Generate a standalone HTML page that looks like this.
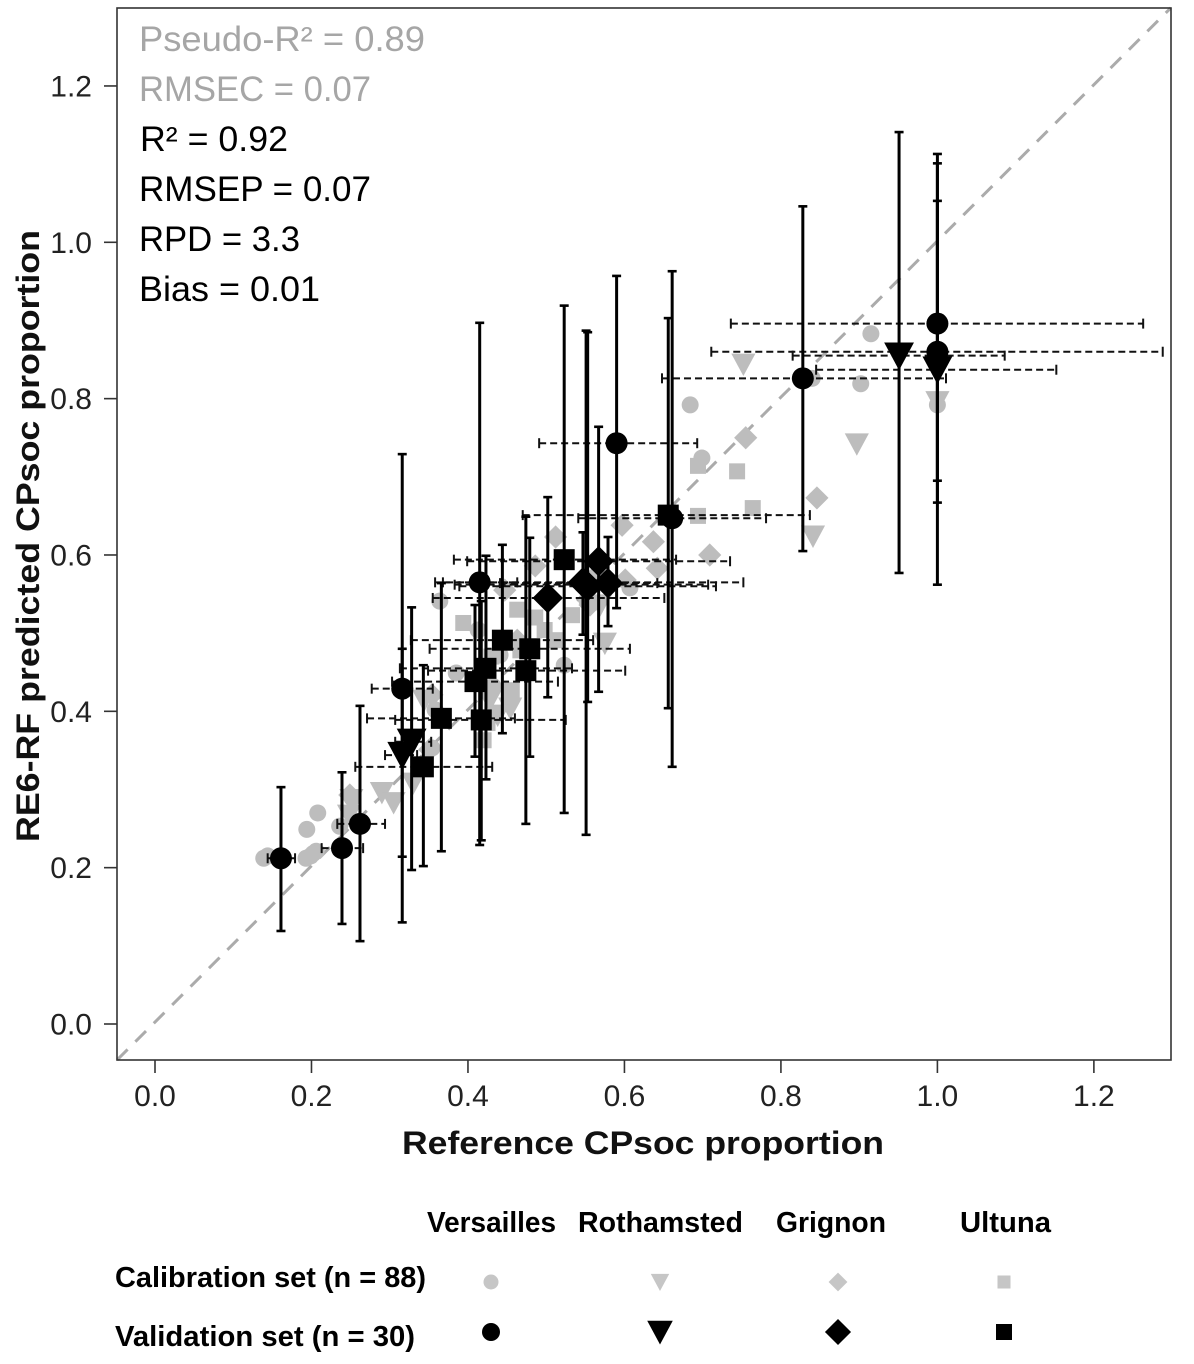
<!DOCTYPE html>
<html lang="en">
<head>
<meta charset="utf-8">
<title>RE6-RF predicted vs reference CPsoc proportion</title>
<style>
html,body{margin:0;padding:0;background:#fff;width:1194px;height:1364px;overflow:hidden}
svg{display:block}
text{font-family:"Liberation Sans",sans-serif}
</style>
</head>
<body>
<svg id="chart" xmlns="http://www.w3.org/2000/svg" width="1194" height="1364" viewBox="0 0 1194 1364">
  <rect width="1194" height="1364" fill="#fff"/>
  <g id="layer-grid"></g>
  <g id="layer-cal"></g>
  <g id="layer-err"></g>
  <g id="layer-val"></g>
  <g id="layer-axes"></g>
  <g font-size="35">
    <text x="139" y="51" fill="#a6a6a6" textLength="286" lengthAdjust="spacingAndGlyphs">Pseudo-R² = 0.89</text>
    <text x="139" y="101" fill="#a6a6a6" textLength="232" lengthAdjust="spacingAndGlyphs">RMSEC = 0.07</text>
    <text x="140" y="151" fill="#000" textLength="148" lengthAdjust="spacingAndGlyphs">R² = 0.92</text>
    <text x="139" y="201" fill="#000" textLength="232" lengthAdjust="spacingAndGlyphs">RMSEP = 0.07</text>
    <text x="139" y="251" fill="#000" textLength="161" lengthAdjust="spacingAndGlyphs">RPD = 3.3</text>
    <text x="139" y="301" fill="#000" textLength="181" lengthAdjust="spacingAndGlyphs">Bias = 0.01</text>
  </g>
  <text x="402" y="1154" font-size="32" font-weight="bold" fill="#111" textLength="482" lengthAdjust="spacingAndGlyphs">Reference CPsoc proportion</text>
  <text transform="translate(39,842) rotate(-90)" font-size="32" font-weight="bold" fill="#111" textLength="612" lengthAdjust="spacingAndGlyphs">RE6-RF predicted CPsoc proportion</text>
  <g font-weight="bold" font-size="29" fill="#000">
    <text x="427" y="1232" textLength="129" lengthAdjust="spacingAndGlyphs">Versailles</text>
    <text x="578" y="1232" textLength="165" lengthAdjust="spacingAndGlyphs">Rothamsted</text>
    <text x="776" y="1232" textLength="110" lengthAdjust="spacingAndGlyphs">Grignon</text>
    <text x="960" y="1232" textLength="91" lengthAdjust="spacingAndGlyphs">Ultuna</text>
    <text x="115" y="1287" textLength="311" lengthAdjust="spacingAndGlyphs">Calibration set (n = 88)</text>
    <text x="115" y="1346" textLength="300" lengthAdjust="spacingAndGlyphs">Validation set (n = 30)</text>
  </g>
  <g id="layer-legend"></g>
</svg>
<script>
// Axis tick labels
const xTicks = ["0.0","0.2","0.4","0.6","0.8","1.0","1.2"];
const yTicks = ["0.0","0.2","0.4","0.6","0.8","1.0","1.2"];

// Calibration set: [reference, predicted]
const calVersailles = [[.139,.212],[.144,.215],[.194,.249],[.208,.270],[.193,.212],[.199,.215],[.206,.221],[.202,.218],[.236,.253],[.252,.289],[.364,.541],[.385,.449],[.432,.432],[.523,.459],[.684,.792],[.699,.724],[.915,.883],[.902,.819],[.840,.826],[1.0,.792],[.552,.542],[.607,.558],[.358,.402],[.354,.353],[.413,.504],[.441,.472]];
const calRothamsted = [[.752,.844],[.897,.742],[.841,.624],[1.0,.796],[.290,.296],[.305,.283],[.251,.287],[.248,.267],[.330,.308],[.344,.414],[.575,.487],[.569,.536],[.454,.404],[.438,.395],[.428,.414]];
const calGrignon = [[.755,.750],[.846,.673],[.637,.617],[.709,.600],[.642,.583],[.597,.638],[.512,.623],[.486,.586],[.564,.574],[.601,.568],[.447,.555],[.463,.491],[.556,.536],[.354,.421],[.351,.351],[.249,.293]];
const calUltuna = [[.744,.707],[.694,.714],[.694,.650],[.764,.660],[.394,.513],[.463,.530],[.533,.523],[.498,.504],[.511,.491],[.456,.427],[.420,.363],[.467,.478],[.486,.520],[.430,.470],[.425,.385]];

// Validation set, per site: reference, predicted and error limits
const valSite = ["v","v","v","v","v","v","v","v","v","v","r","r","r","r","g","g","g","g","g","g","u","u","u","u","u","u","u","u","u","u"];
const valX = [.161,.239,.262,.316,.415,.590,.661,.828,1.0,1.0,.316,.328,.951,1.0,.502,.547,.551,.553,.567,.579,.343,.366,.417,.409,.423,.444,.479,.474,.523,.656];
const valY = [.212,.225,.256,.429,.565,.743,.647,.826,.896,.860,.344,.361,.855,.837,.545,.565,.562,.560,.592,.564,.329,.391,.389,.438,.455,.491,.480,.452,.594,.651];
const xLow = [.144,.213,.233,.277,.368,.491,.541,.648,.736,.711,.294,.307,.815,.845,.355,.358,.383,.389,.399,.441,.256,.271,.307,.303,.313,.327,.351,.349,.382,.470];
const xHigh = [.179,.266,.294,.355,.463,.693,.781,1.011,1.263,1.288,.335,.353,1.086,1.152,.651,.752,.707,.717,.735,.642,.431,.460,.525,.515,.533,.560,.607,.601,.666,.837];
const yLow = [.119,.128,.106,.130,.229,.532,.329,.605,.695,.667,.214,.197,.577,.562,.418,.498,.242,.412,.425,.509,.202,.221,.235,.342,.313,.372,.342,.256,.270,.404];
const yHigh = [.303,.322,.407,.729,.897,.957,.963,1.046,1.113,1.101,.480,.533,1.141,1.053,.674,.629,.887,.885,.764,.623,.459,.564,.541,.536,.599,.613,.622,.649,.919,.903];

// Axis scales
function sx(v){ return 155 + v * 782.4; }
function sy(v){ return 1024 - v * 781.7; }

const NS = "http://www.w3.org/2000/svg";
function mk(tag, attrs, parent){
  const el = document.createElementNS(NS, tag);
  for (const k in attrs) el.setAttribute(k, attrs[k]);
  parent.appendChild(el);
  return el;
}

function marker(kind, cx, cy, s, fill, parent){
  let el;
  if (kind === "v") {
    el = mk("circle", {cx:cx, cy:cy, r:s, fill:fill}, parent);
  } else if (kind === "r") {
    const w = s * 1.42, h = s * 1.32;
    el = mk("polygon", {points:(cx-w)+","+(cy-h*0.95)+" "+(cx+w)+","+(cy-h*0.95)+" "+cx+","+(cy+h*1.05), fill:fill}, parent);
  } else if (kind === "g") {
    const d = s * 1.45;
    el = mk("polygon", {points:cx+","+(cy-d)+" "+(cx+d)+","+cy+" "+cx+","+(cy+d)+" "+(cx-d)+","+cy, fill:fill}, parent);
  } else {
    el = mk("rect", {x:cx-s, y:cy-s, width:2*s, height:2*s, fill:fill}, parent);
  }
  return el;
}

const GRAY = "#bdbdbd";
const plotL = 117, plotR = 1171, plotT = 8, plotB = 1060;

// Identity line, clipped to the plot box
const gridLayer = document.getElementById("layer-grid");
const diag = mk("line", {x1:sx(-0.0486), y1:sy(-0.0461), x2:sx(1.2985), y2:sy(1.3), stroke:"#ababab", "stroke-width":3, "stroke-dasharray":"15 11"}, gridLayer);



// Calibration points
const calLayer = document.getElementById("layer-cal");
[["u",calUltuna],["g",calGrignon],["r",calRothamsted],["v",calVersailles]].forEach(function(set){
  set[1].forEach(function(p){
    const el = marker(set[0], sx(p[0]), sy(p[1]), set[0]==="u"?8:set[0]==="g"?8:8.5, GRAY, calLayer);
    
    
  });
});

// Validation error bars
const errLayer = document.getElementById("layer-err");
valX.forEach(function(x, i){
  const y = valY[i];
  const h = mk("line", {x1:sx(xLow[i]), y1:sy(y), x2:sx(xHigh[i]), y2:sy(y), stroke:"#111", "stroke-width":2, "stroke-dasharray":"7 4"}, errLayer);
  
  
  [xLow[i], xHigh[i]].forEach(function(v){
    const c = mk("line", {x1:sx(v), y1:sy(y)-5, x2:sx(v), y2:sy(y)+5, stroke:"#111", "stroke-width":2}, errLayer);
    
    
  });
});
valX.forEach(function(x, i){
  const v = mk("line", {x1:sx(x), y1:sy(yLow[i]), x2:sx(x), y2:sy(yHigh[i]), stroke:"#000", "stroke-width":3}, errLayer);
  
  
  [yLow[i], yHigh[i]].forEach(function(w){
    const c = mk("line", {x1:sx(x)-4.5, y1:sy(w), x2:sx(x)+4.5, y2:sy(w), stroke:"#000", "stroke-width":2.6}, errLayer);
    
    
  });
});

// Validation points
const valLayer = document.getElementById("layer-val");
valX.forEach(function(x, i){
  const el = marker(valSite[i], sx(x), sy(valY[i]), valSite[i]==="v"?11:10.5, "#000", valLayer);
  
  
});

// Axes
const axes = document.getElementById("layer-axes");
const box = mk("rect", {x:plotL, y:plotT, width:plotR-plotL, height:plotB-plotT, fill:"none", stroke:"#333", "stroke-width":1.6}, axes);


xTicks.forEach(function(t){
  const v = parseFloat(t);
  const tick = mk("line", {x1:sx(v), y1:plotB, x2:sx(v), y2:plotB+13, stroke:"#333", "stroke-width":1.6}, axes);
  
  
  const label = mk("text", {x:sx(v), y:1106, "font-size":30, "text-anchor":"middle", fill:"#222"}, axes);
  label.textContent = t;
  
  
});
yTicks.forEach(function(t){
  const v = parseFloat(t);
  const tick = mk("line", {x1:plotL-13, y1:sy(v), x2:plotL, y2:sy(v), stroke:"#333", "stroke-width":1.6}, axes);
  
  
  const label = mk("text", {x:92, y:sy(v)+10.5, "font-size":30, "text-anchor":"end", fill:"#222"}, axes);
  label.textContent = t;
  
  
});

// Legend markers
const legendLayer = document.getElementById("layer-legend");
const legendKinds = ["v","r","g","u"];
const legendColumns = [491,660,838,1004];
legendKinds.forEach(function(k, i){
  const a = marker(k, legendColumns[i], 1282, k==="u"?6.5:k==="v"?7.5:6.5, "#c6c6c6", legendLayer);
  
  
  const b = marker(k, legendColumns[i], 1332, k==="u"?8:k==="v"?9:9, "#000", legendLayer);
  
  
});
</script>
</body>
</html>
